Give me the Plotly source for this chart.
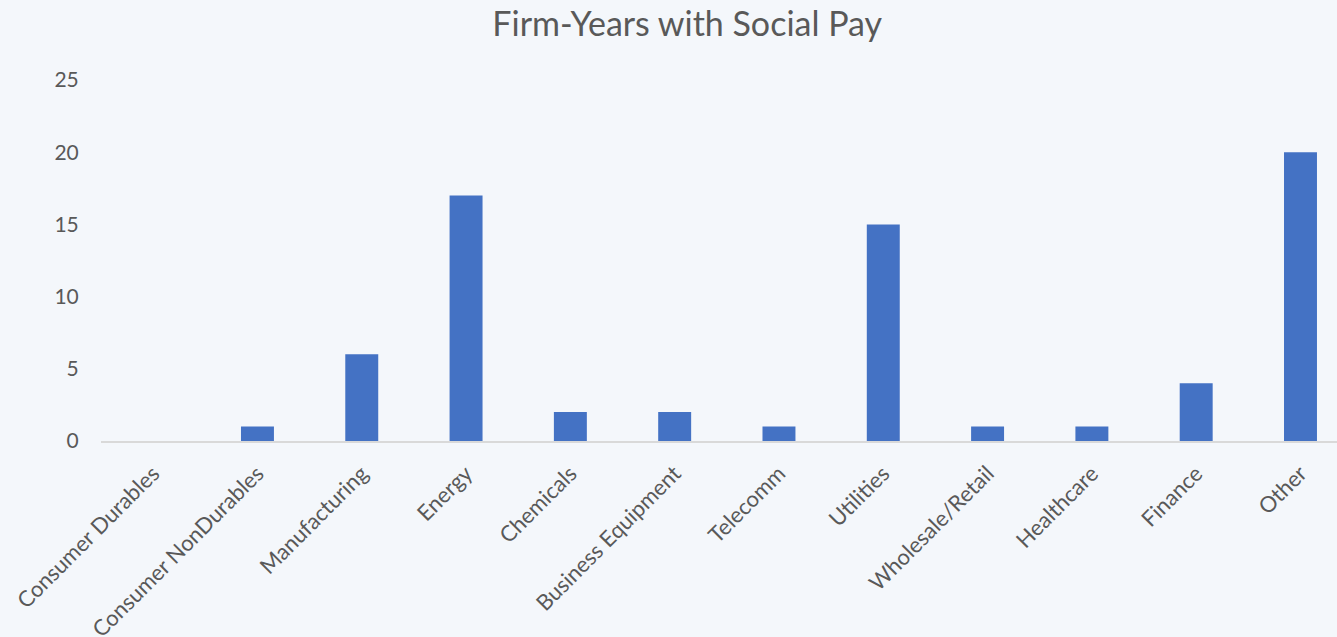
import plotly.graph_objects as go

# Industry groups and number of firm-years with social pay
industries = [
    "Consumer Durables", "Consumer NonDurables", "Manufacturing", "Energy",
    "Chemicals", "Business Equipment", "Telecomm", "Utilities",
    "Wholesale/Retail", "Healthcare", "Finance", "Other",
]
firm_years = [0, 1, 6, 17, 2, 2, 1, 15, 1, 1, 4, 20]
y_ticks = [0, 5, 10, 15, 20, 25]

BG = "#F4F7FB"
TEXT = "#595959"
FONT = "Lato, Open Sans, sans-serif"

fig = go.Figure(
    go.Bar(
        x=industries,
        y=firm_years,
        marker=dict(color="#4472C4", line=dict(width=0)),
        hoverinfo="x+y",
    )
)

fig.update_layout(
    width=1337,
    height=637,
    paper_bgcolor=BG,
    plot_bgcolor=BG,
    margin=dict(l=101, r=0, t=80, b=196),
    bargap=0.684,
    showlegend=False,
    font=dict(family=FONT, color=TEXT),
    title=dict(
        text="Firm-Years with Social Pay",
        x=0.514,
        xref="container",
        xanchor="center",
        y=0.962,
        yref="container",
        yanchor="middle",
        font=dict(family=FONT, size=34, color=TEXT),
    ),
    xaxis=dict(
        range=[-0.5, 11.35],
        automargin=False,
        tickangle=-45,
        tickfont=dict(family=FONT, size=22, color=TEXT),
        showgrid=False,
        showline=True,
        linecolor="#D9D9D9",
        linewidth=2,
        ticks="outside",
        ticklen=9,
        tickcolor="rgba(0,0,0,0)",
        zeroline=False,
    ),
    yaxis=dict(
        range=[0, 25],
        automargin=False,
        tickvals=y_ticks,
        tickfont=dict(family=FONT, size=21, color=TEXT),
        showgrid=False,
        showline=False,
        zeroline=False,
        ticks="outside",
        ticklen=17,
        tickcolor="rgba(0,0,0,0)",
    ),
)

fig.write_html("out.html")
